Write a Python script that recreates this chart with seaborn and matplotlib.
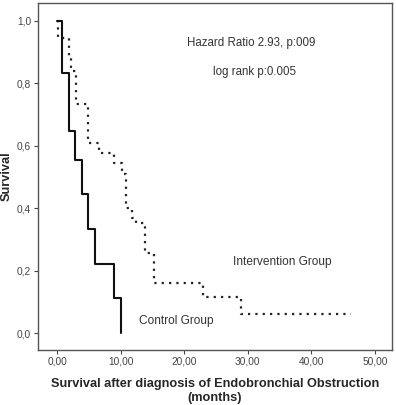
import matplotlib
matplotlib.use("Agg")
import matplotlib.pyplot as plt
import pandas as pd
import seaborn as sns

### Dados (Kaplan-Meier)
tempo_controle = [0.0, 0.8, 1.8, 2.8, 3.9, 4.9, 6.0, 8.9, 10.0]
sobrev_controle = [1.0, 0.833, 0.648, 0.556, 0.444, 0.333, 0.222, 0.111, 0.0]

tempo_intervencao = [0.0, 0.1, 1.8, 2.2, 3.0, 4.8, 6.6, 9.0, 10.2, 10.9, 11.8, 12.4,
                     13.9, 15.2, 23.0, 28.9, 46.3]
sobrev_intervencao = [1.0, 0.944, 0.889, 0.84, 0.735, 0.61, 0.578, 0.544, 0.51, 0.40,
                      0.37, 0.352, 0.255, 0.16, 0.115, 0.06, 0.06]

xticks = [0, 10, 20, 30, 40, 50]
yticks = [0.0, 0.2, 0.4, 0.6, 0.8, 1.0]

controle = pd.DataFrame({"Tempo": tempo_controle, "Sobrevida": sobrev_controle})
intervencao = pd.DataFrame({"Tempo": tempo_intervencao, "Sobrevida": sobrev_intervencao})

sns.set_style("white")
plt.rcParams["font.family"] = ["Liberation Sans", "DejaVu Sans"]

fig = plt.figure(figsize = (3.96, 4.05), dpi = 100)
ax = fig.add_axes([0.096, 0.136, 0.894, 0.857])

sns.lineplot(data = intervencao, x = "Tempo", y = "Sobrevida", ax = ax, estimator = None,
             sort = False, drawstyle = "steps-post", color = "#222222",
             linewidth = 1.6, linestyle = (0, (1, 2.3)))
sns.lineplot(data = controle, x = "Tempo", y = "Sobrevida", ax = ax, estimator = None,
             sort = False, drawstyle = "steps-post", color = "#111111", linewidth = 1.5)

ax.set_xlim(-3.0, 52.7)
ax.set_ylim(-0.054, 1.058)
ax.set_xticks(xticks)
ax.set_yticks(yticks)
ax.set_xticklabels([f"{v:.2f}".replace(".", ",") for v in xticks], fontsize = 7.3, color = "#444444")
ax.set_yticklabels([f"{v:.1f}".replace(".", ",") for v in yticks], fontsize = 7.3, color = "#444444")
ax.tick_params(axis = "both", direction = "out", length = 3, width = 0.8, color = "#444444",
               bottom = True, left = True, pad = 2)
for s in ax.spines.values():
    s.set_color("#555555")
    s.set_linewidth(1.0)

ax.set_ylabel("Survival", fontsize = 9.2, weight = "bold", labelpad = 3)
ax.set_xlabel("Survival after diagnosis of Endobronchial Obstruction\n(months)",
              fontsize = 9.2, weight = "bold", labelpad = 8, linespacing = 1.2)

ax.text(30.5, 0.93, "Hazard Ratio 2.93, p:009", fontsize = 8.3, ha = "center", va = "center", color = "#333333")
ax.text(31.1, 0.837, "log rank p:0.005", fontsize = 8.3, ha = "center", va = "center", color = "#333333")
ax.text(35.4, 0.228, "Intervention Group", fontsize = 8.6, ha = "center", va = "center", color = "#333333")
ax.text(18.7, 0.04, "Control Group", fontsize = 8.6, ha = "center", va = "center", color = "#333333")

plt.savefig("out.png", dpi = 100)
